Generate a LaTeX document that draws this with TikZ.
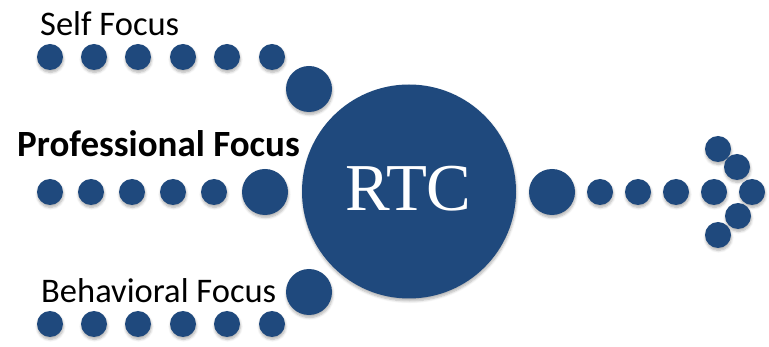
\documentclass[tikz,border=0pt]{standalone}
\usepackage{fontspec}
\setmainfont{Carlito}
\newfontfamily\rtcfont{Liberation Serif}
\usetikzlibrary{shadows.blur}
\definecolor{rtcblue}{HTML}{1F497D}
\tikzset{
  dotbase/.style={circle, fill=rtcblue, inner sep=0pt,
    blur shadow={shadow xshift=0.5pt, shadow yshift=-2.5pt, shadow blur radius=2.5pt, shadow opacity=30, shadow blur steps=6}},
  smalldot/.style={dotbase, minimum size=26pt},
  bigdot/.style={dotbase, minimum size=46pt},
  hubdot/.style={dotbase, minimum size=214pt},
  label/.style={anchor=base west, inner sep=0pt, font=\fontsize{34.5}{38}\selectfont},
}
\begin{document}
\begin{tikzpicture}[x=1pt, y=-1pt]
\useasboundingbox (0,0) rectangle (769,347);
% top row
\foreach \i/\x in {1/50,2/94,3/138,4/183,5/227,6/272}
  \node[smalldot] (t\i) at (\x,57) {};
\node[bigdot] (tb) at (309,89) {};
% middle row
\foreach \i/\x in {1/50,2/91,3/132,4/173,5/214}
  \node[smalldot] (m\i) at (\x,192) {};
\node[bigdot] (mb) at (265,192) {};
% bottom row
\foreach \i/\x in {1/50,2/94,3/138,4/183,5/227,6/272}
  \node[smalldot] (b\i) at (\x,324) {};
\node[bigdot] (bb) at (309,292) {};
% hub
\node[hubdot] (rtc) at (409,191.5) {};
\node[text=white, font=\rtcfont\fontsize{67}{72}\selectfont, inner sep=0pt, anchor=base] (rtct) at (408.5,211) {RTC};
% right arrow
\node[bigdot] (rb) at (552,192) {};
\foreach \i/\x in {1/600,2/638,3/676,4/714}
  \node[smalldot] (r\i) at (\x,192) {};
\node[smalldot] (a1) at (718,149) {};
\node[smalldot] (a2) at (737,167) {};
\node[smalldot] (a3) at (752,192) {};
\node[smalldot] (a4) at (738,216) {};
\node[smalldot] (a5) at (718,235) {};
% labels
\node[label] (self) at (40,36) {Self Focus};
\node[label, font=\bfseries\fontsize{37}{40}\selectfont] (prof) at (17,157) {Professional Focus};
\node[label] (beh) at (41,303) {Behavioral Focus};
\end{tikzpicture}
\end{document}
